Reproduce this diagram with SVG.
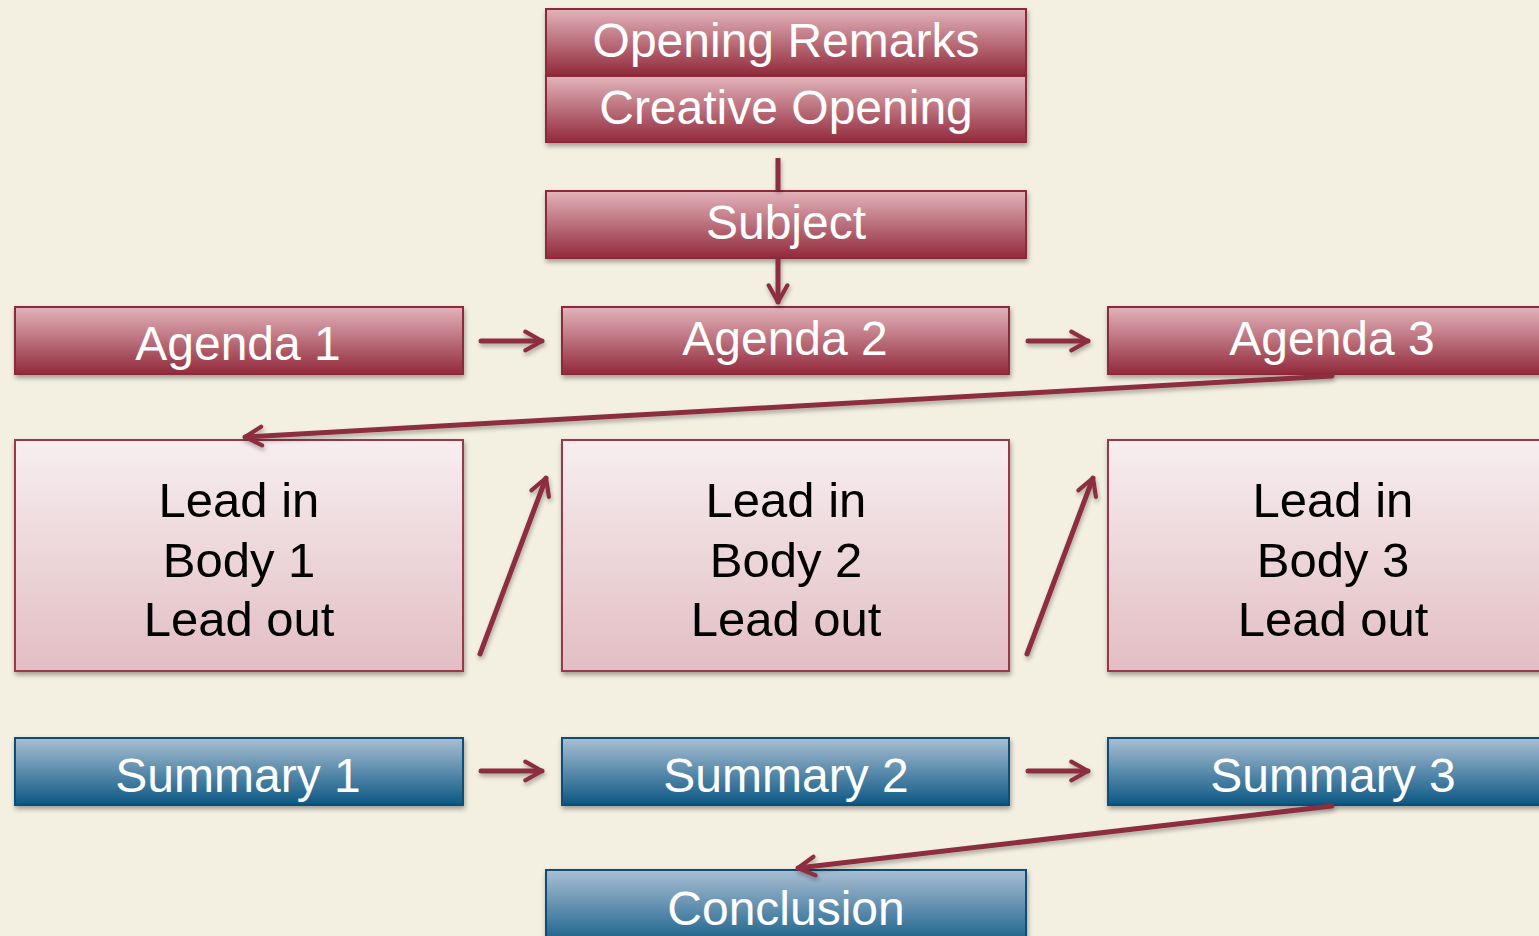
<svg xmlns="http://www.w3.org/2000/svg" width="1539" height="936" viewBox="0 0 1539 936">
<defs>
<linearGradient id="gr" x1="0" y1="0" x2="0" y2="1"><stop offset="0" stop-color="#e3b4bb"/><stop offset="1" stop-color="#922a3c"/></linearGradient>
<linearGradient id="gb" x1="0" y1="0" x2="0" y2="1"><stop offset="0" stop-color="#aabfd3"/><stop offset="1" stop-color="#0b5784"/></linearGradient>
<linearGradient id="gp" x1="0" y1="0" x2="0" y2="1"><stop offset="0" stop-color="#f7eef0"/><stop offset="1" stop-color="#e2bec3"/></linearGradient>
<filter id="sh" x="-10%" y="-20%" width="120%" height="150%"><feDropShadow dx="1" dy="3" stdDeviation="2.5" flood-color="#000" flood-opacity="0.35"/></filter>
<filter id="shl" filterUnits="userSpaceOnUse" x="0" y="0" width="1539" height="936"><feDropShadow dx="1" dy="3" stdDeviation="2" flood-color="#000" flood-opacity="0.3"/></filter>
<marker id="ah" viewBox="0 0 12 12" refX="10" refY="6" markerWidth="5" markerHeight="5" orient="auto" markerUnits="strokeWidth"><path d="M2,1.5 L10,6 L2,10.5" fill="none" stroke="#8c2f40" stroke-width="2" stroke-linecap="round" stroke-linejoin="round"/></marker>
<style>
.r{fill:url(#gr);stroke:#8c2a3b;stroke-width:2;filter:url(#sh)}
.b{fill:url(#gb);stroke:#0d4d78;stroke-width:2;filter:url(#sh)}
.p{fill:url(#gp);stroke:#99384a;stroke-width:2;filter:url(#sh)}
.tw{font-family:"Liberation Sans",Arial,sans-serif;font-size:48px;fill:#fff;text-anchor:middle}
.tk{font-family:"Liberation Sans",Arial,sans-serif;font-size:49px;fill:#000;text-anchor:middle}
.c{fill:none;stroke:#8c2f40;stroke-width:5;stroke-linecap:round;marker-end:url(#ah)}
.cn{fill:none;stroke:#8c2f40;stroke-width:5}
</style>
</defs>
<rect width="1539" height="936" fill="#f3efe1"/>
<g id="opening"><rect class="r" x="546" y="9" width="480" height="66"/><text class="tw" x="786" y="57" font-size="46.5">Opening Remarks</text></g>
<g id="creative"><rect class="r" x="546" y="76" width="480" height="66"/><text class="tw" x="786" y="124" font-size="46.5">Creative Opening</text></g>
<g id="subject"><rect class="r" x="546" y="191" width="480" height="67"/><text class="tw" x="786" y="239">Subject</text></g>
<g id="agenda1"><rect class="r" x="15" y="307" width="448" height="67"/><text class="tw" x="238" y="360">Agenda 1</text></g>
<g id="agenda2"><rect class="r" x="562" y="307" width="447" height="67"/><text class="tw" x="785" y="355">Agenda 2</text></g>
<g id="agenda3"><rect class="r" x="1108" y="307" width="445" height="67"/><text class="tw" x="1332" y="355">Agenda 3</text></g>
<g id="body1"><rect class="p" x="15" y="440" width="448" height="231"/><text class="tk" x="239" y="517">Lead in</text><text class="tk" x="239" y="577">Body 1</text><text class="tk" x="239" y="636">Lead out</text></g>
<g id="body2"><rect class="p" x="562" y="440" width="447" height="231"/><text class="tk" x="786" y="517">Lead in</text><text class="tk" x="786" y="577">Body 2</text><text class="tk" x="786" y="636">Lead out</text></g>
<g id="body3"><rect class="p" x="1108" y="440" width="445" height="231"/><text class="tk" x="1333" y="517">Lead in</text><text class="tk" x="1333" y="577">Body 3</text><text class="tk" x="1333" y="636">Lead out</text></g>
<g id="summary1"><rect class="b" x="15" y="738" width="448" height="67"/><text class="tw" x="238" y="792">Summary 1</text></g>
<g id="summary2"><rect class="b" x="562" y="738" width="447" height="67"/><text class="tw" x="786" y="792">Summary 2</text></g>
<g id="summary3"><rect class="b" x="1108" y="738" width="445" height="67"/><text class="tw" x="1333" y="792">Summary 3</text></g>
<g id="conclusion"><rect class="b" x="546" y="870" width="480" height="80"/><text class="tw" x="786" y="925">Conclusion</text></g>
<g id="connectors" filter="url(#shl)">
<line class="cn" x1="778" y1="158" x2="778" y2="190"/>
<line class="c" x1="778" y1="259" x2="778" y2="302"/>
<line class="c" x1="481" y1="341" x2="542" y2="341"/>
<line class="c" x1="1028" y1="341" x2="1088" y2="341"/>
<line class="c" x1="1332" y1="376" x2="245" y2="437"/>
<line class="c" x1="480" y1="654" x2="546" y2="478"/>
<line class="c" x1="1027" y1="654" x2="1093" y2="478"/>
<line class="c" x1="481" y1="771" x2="542" y2="771"/>
<line class="c" x1="1028" y1="771" x2="1088" y2="771"/>
<line class="c" x1="1332" y1="806" x2="798" y2="868"/>
</g>
</svg>
